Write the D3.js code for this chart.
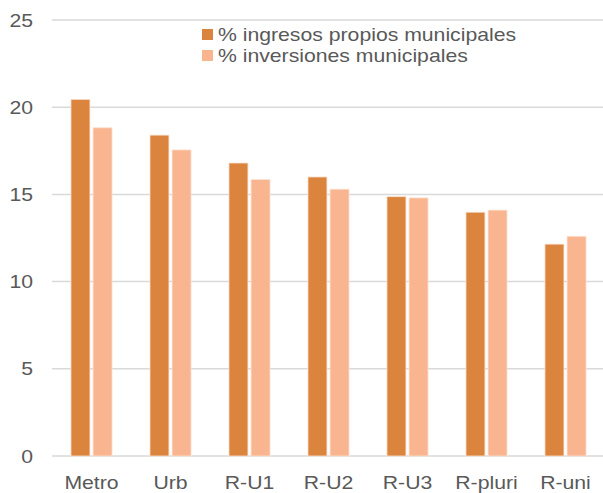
<!DOCTYPE html>
<html>
<head>
<meta charset="utf-8">
<script src="https://cdn.jsdelivr.net/npm/d3@7"></script>
<style>
  body { margin: 0; background: #fff; }
  text { font-family: "Liberation Sans", Arial, sans-serif; fill: #595959; font-size: 18.6px; }
</style>
</head>
<body>
<script>
// Data
let categories = ["Metro", "Urb", "R-U1", "R-U2", "R-U3", "R-pluri", "R-uni"];
let seriesNames = ["% ingresos propios municipales", "% inversiones municipales"];
let ingresos = [20.45, 18.4, 16.8, 16.0, 14.87, 13.98, 12.15];
let inversiones = [18.82, 17.55, 15.85, 15.3, 14.8, 14.1, 12.6];
let yTicks = [0, 5, 10, 15, 20, 25];
let colors = ["#DB843E", "#F8B590"];

let width = 603, height = 493;
let margin = { top: 20, right: 0, bottom: 37, left: 52 };
let stretch = 1.14; // the original text is a bit wider than Arial

let svg = d3.select("body")
    .append("svg")
    .attr("width", width)
    .attr("height", height);

let x = d3.scaleBand()
    .domain(categories)
    .range([margin.left, width - margin.right + 2])
    .paddingInner(0.48)
    .paddingOuter(0.24);

let xInner = d3.scaleBand()
    .domain([0, 1])
    .range([0, x.bandwidth()])
    .paddingInner(0.14);

let y = d3.scaleLinear()
    .domain([0, 25])
    .range([height - margin.bottom, margin.top]);

let place = (px, py) => `translate(${px}, ${py}) scale(${stretch}, 1)`;

// Gridlines
svg.append("g")
    .selectAll("line")
    .data(yTicks)
    .enter()
    .append("line")
    .attr("x1", margin.left)
    .attr("x2", width)
    .attr("y1", d => y(d))
    .attr("y2", d => y(d))
    .attr("stroke", "#D9D9D9")
    .attr("stroke-width", 1.5);

// Y axis labels
svg.append("g")
    .selectAll("text")
    .data(yTicks)
    .enter()
    .append("text")
    .attr("transform", d => place(33, y(d)))
    .attr("dy", "0.35em")
    .attr("text-anchor", "end")
    .text(d => d);

// Bars
let series = [ingresos, inversiones];
let groups = svg.append("g")
    .selectAll("g")
    .data(series)
    .enter()
    .append("g")
    .attr("fill", (_, i) => colors[i]);

groups.each(function (vals, si) {
    d3.select(this)
        .selectAll("rect")
        .data(vals)
        .enter()
        .append("rect")
        .attr("x", (_, i) => x(categories[i]) + xInner(si))
        .attr("width", xInner.bandwidth())
        .attr("y", d => y(d))
        .attr("height", d => y(0) - y(d))
        .attr("stroke", "#FCE3D3")
        .attr("stroke-width", 0.8);
});

// Category labels
svg.append("g")
    .selectAll("text")
    .data(categories)
    .enter()
    .append("text")
    .attr("transform", d => place(x(d) + x.bandwidth() / 2, 489))
    .attr("text-anchor", "middle")
    .text(d => d);

// Legend
let legend = svg.append("g")
    .selectAll("g")
    .data(seriesNames)
    .enter()
    .append("g")
    .attr("transform", (_, i) => `translate(202, ${29 + i * 21})`);

legend.append("rect")
    .attr("width", 11)
    .attr("height", 11)
    .attr("fill", (_, i) => colors[i]);

legend.append("text")
    .attr("transform", place(16, 5.5))
    .attr("dy", "0.35em")
    .text(d => d);
</script>
</body>
</html>
